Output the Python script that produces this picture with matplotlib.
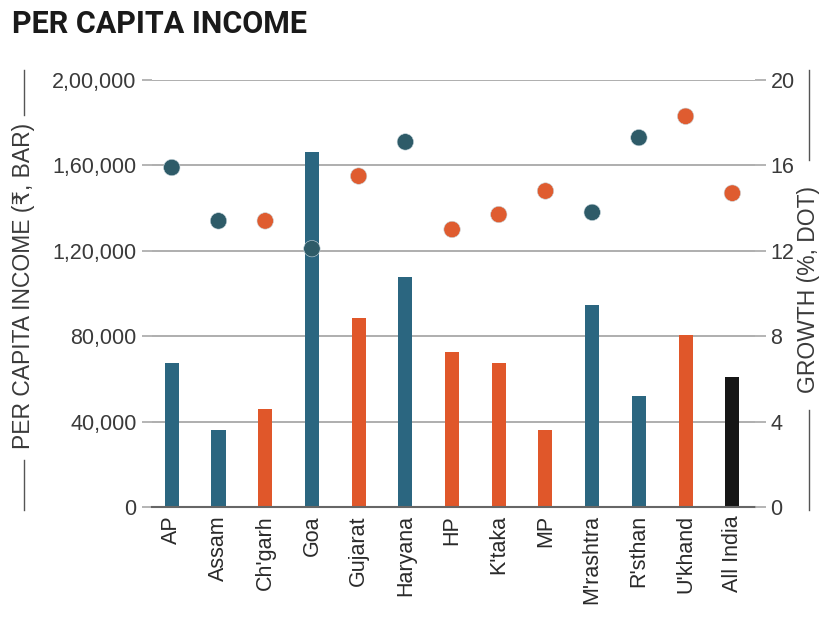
import matplotlib
matplotlib.use('Agg')
import matplotlib.pyplot as plt
from matplotlib.lines import Line2D

states = ['AP', 'Assam', "Ch'garh", 'Goa', 'Gujarat', 'Haryana', 'HP', "K'taka",
          'MP', "M'rashtra", "R'sthan", "U'khand", 'All India']
income = [67500, 36000, 46000, 166300, 88500, 107700, 72600, 67400,
          36000, 94600, 52000, 80500, 61000]
growth = [15.9, 13.4, 13.4, 12.1, 15.5, 17.1, 13.0, 13.7,
          14.8, 13.8, 17.3, 18.3, 14.7]
# group of each state: 'a' = teal, 'b' = orange, 'n' = national
bar_group = ['a', 'a', 'b', 'a', 'b', 'a', 'b', 'b', 'b', 'a', 'a', 'b', 'n']
dot_group = ['a', 'a', 'b', 'a', 'b', 'a', 'b', 'b', 'b', 'a', 'a', 'b', 'b']
left_ticks = [0, 40000, 80000, 120000, 160000, 200000]
left_labels = ['0', '40,000', '80,000', '1,20,000', '1,60,000', '2,00,000']
right_ticks = [0, 4, 8, 12, 16, 20]

bar_colors = {'a': '#2b6680', 'b': '#e0572a', 'n': '#161616'}
dot_colors = {'a': '#2e5b68', 'b': '#df5c30'}

plt.rcParams['font.family'] = ['Liberation Sans', 'DejaVu Sans']

fig = plt.figure(figsize=(8.2, 6.44), dpi=100)
ax = fig.add_axes([0.185, 0.2127, 0.736, 0.6631])
x = list(range(len(states)))

ax.bar(x, income, width=0.3, color=[bar_colors[g] for g in bar_group], zorder=2)
ax.set_ylim(0, 200000)
ax.set_xlim(-0.43, 12.49)
ax.set_yticks(left_ticks)
ax.set_yticklabels(left_labels, fontsize=15.5, color='#3a3a3a')
ax.set_xticks(x)
ax.set_xticklabels(states, rotation=90, fontsize=15.5, color='#2a2a2a')
ax.grid(axis='y', color='#a8a8a8', linewidth=1.3, zorder=0)
ax.tick_params(axis='y', length=7, color='#a8a8a8', width=1.2, pad=4)
ax.tick_params(axis='x', length=0, pad=6)
for s in ['top', 'right', 'left']:
    ax.spines[s].set_visible(False)
ax.spines['bottom'].set_color('#666666')
ax.spines['bottom'].set_linewidth(1.5)

ax2 = ax.twinx()
ax2.set_ylim(0, 20)
ax2.set_yticks(right_ticks)
ax2.set_yticklabels([str(t) for t in right_ticks], fontsize=15.5, color='#3a3a3a')
ax2.tick_params(axis='y', length=8, color='#a8a8a8', width=1.2, pad=3)
for s in ['top', 'right', 'left', 'bottom']:
    ax2.spines[s].set_visible(False)
ax2.scatter(x, growth, s=140, c=[dot_colors[g] for g in dot_group],
            edgecolors='#c9d7dd', linewidths=0.4, zorder=3)

fig.text(0.015, 0.962, 'PER CAPITA INCOME', fontsize=22, fontweight='bold',
         color='#1a1a1a', va='center', ha='left', family=['Roboto', 'DejaVu Sans'])

# axis titles with rules on either side
fig.text(0.029, 0.556, 'PER CAPITA INCOME (\u20b9, BAR)', rotation=90, fontsize=16.5,
         color='#3a3a3a', ha='center', va='center')
fig.add_artist(Line2D([0.029, 0.029], [0.208, 0.286], color='#555555', lw=1))
fig.add_artist(Line2D([0.029, 0.029], [0.821, 0.891], color='#555555', lw=1))
fig.text(0.986, 0.55, 'GROWTH (%, DOT)', rotation=90, fontsize=16.5,
         color='#3a3a3a', ha='center', va='center')
fig.add_artist(Line2D([0.986, 0.986], [0.208, 0.363], color='#555555', lw=1))
fig.add_artist(Line2D([0.986, 0.986], [0.752, 0.891], color='#555555', lw=1))

fig.savefig('out.png', dpi=100, facecolor='white')
